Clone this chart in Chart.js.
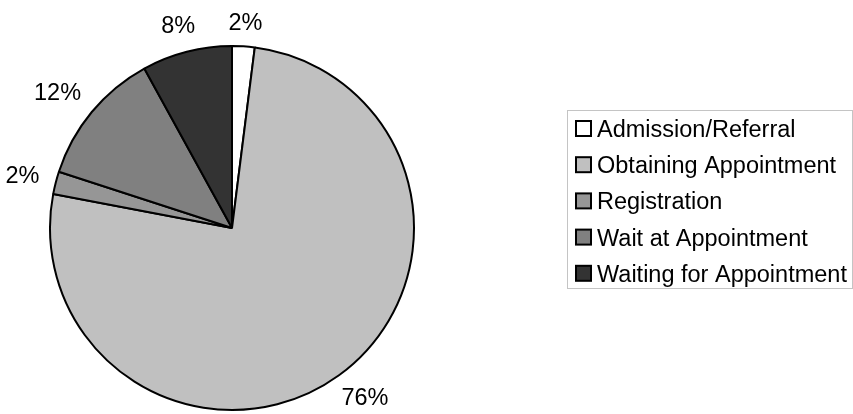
<!DOCTYPE html>
<html>
<head>
<meta charset="utf-8">
<script src="https://cdn.jsdelivr.net/npm/chart.js@4/dist/chart.umd.min.js"></script>
<style>
  html, body { margin: 0; padding: 0; background: #fff; }
  #wrap { position: relative; width: 853px; height: 414px; }
</style>
</head>
<body>
<div id="wrap"><canvas id="pie" width="853" height="414"></canvas></div>
<script>
// Données du graphique
const categories = ['Admission/Referral', 'Obtaining Appointment', 'Registration', 'Wait at Appointment', 'Waiting for Appointment'];
const shares = [2, 76, 2, 12, 8];
const sliceColors = ['#ffffff', '#c0c0c0', '#969696', '#808080', '#333333'];

const FONT = '23.5px "Liberation Sans", Arial, sans-serif';

// Étiquettes de pourcentage à l'extérieur des parts
const outsideLabels = {
  id: 'outsideLabels',
  afterDatasetsDraw(chart) {
    const ctx = chart.ctx;
    const arcs = chart.getDatasetMeta(0).data;
    ctx.save();
    ctx.font = FONT;
    ctx.fillStyle = '#000';
    ctx.textAlign = 'center';
    ctx.textBaseline = 'middle';
    arcs.forEach((arc, i) => {
      const mid = (arc.startAngle + arc.endAngle) / 2;
      const dx = Math.cos(mid), dy = Math.sin(mid);
      const text = shares[i] + '%';
      const halfW = ctx.measureText(text).width / 2;
      const halfH = 8.5;
      // un peu plus loin sur les diagonales (coin du cadre du texte)
      const r = arc.outerRadius + 14 + 7 * Math.abs(Math.sin(2 * mid));
      const x = arc.x + dx * r + dx * halfW;
      const y = arc.y + dy * r + dy * halfH;
      ctx.fillText(text, x, y);
    });
    ctx.restore();
  }
};

// Légende dessinée à droite, dans un cadre gris
const boxLegend = {
  id: 'boxLegend',
  afterDraw(chart) {
    const ctx = chart.ctx;
    ctx.save();
    ctx.strokeStyle = '#c4c4c4';
    ctx.lineWidth = 1;
    ctx.strokeRect(567.5, 110.5, 285, 178);
    ctx.font = FONT;
    ctx.textAlign = 'left';
    ctx.textBaseline = 'alphabetic';
    categories.forEach((name, i) => {
      const base = 137 + i * 36.2;
      ctx.fillStyle = sliceColors[i];
      ctx.fillRect(576, base - 16, 15, 15);
      ctx.strokeStyle = '#000';
      ctx.lineWidth = 2;
      ctx.strokeRect(576, base - 16, 15, 15);
      ctx.fillStyle = '#000';
      ctx.fillText(name, 597, base);
    });
    ctx.restore();
  }
};

const ctx = document.getElementById('pie').getContext('2d');
new Chart(ctx, {
  type: 'pie',
  data: {
    labels: categories,
    datasets: [{
      data: shares,
      backgroundColor: sliceColors,
      borderColor: '#000000',
      borderWidth: 2,
      borderAlign: 'center'
    }]
  },
  options: {
    responsive: false,
    animation: false,
    layout: { padding: { left: 49, right: 438, top: 45, bottom: 3 } },
    plugins: {
      legend: { display: false },
      tooltip: { enabled: false }
    }
  },
  plugins: [outsideLabels, boxLegend]
});
</script>
</body>
</html>
